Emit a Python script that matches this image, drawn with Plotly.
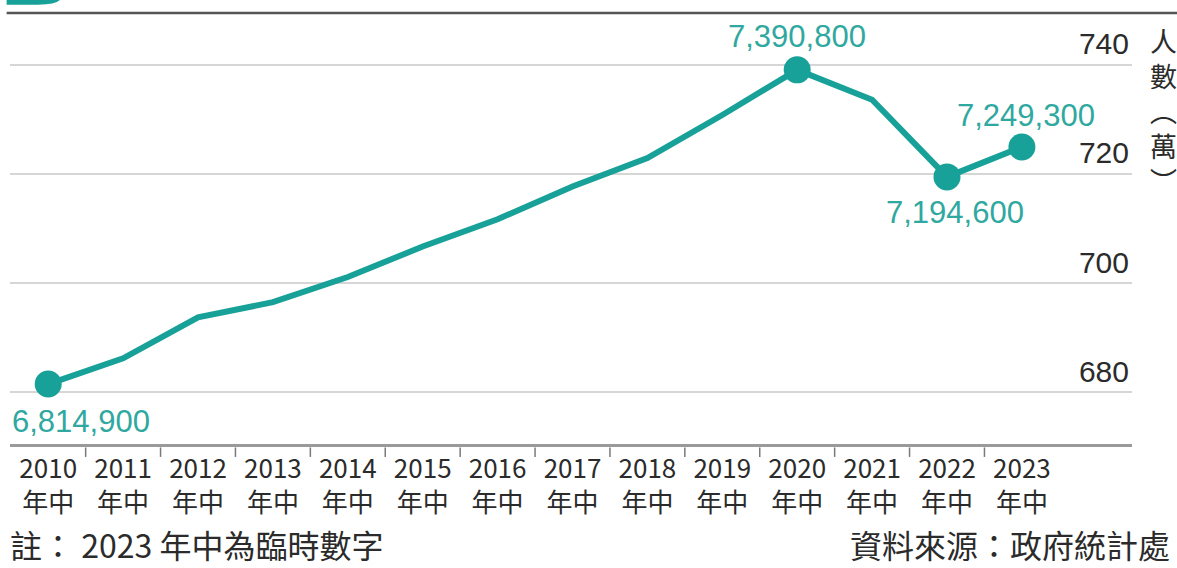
import plotly.graph_objects as go

years = [2010, 2011, 2012, 2013, 2014, 2015, 2016, 2017, 2018, 2019, 2020, 2021, 2022, 2023]
population_wan = [681.49, 686.2, 693.7, 696.5, 701.1, 706.7, 711.7, 717.7, 722.9, 730.8, 739.08, 733.6, 719.46, 724.93]
tick_labels = [f"{y}<br>年中" for y in years]
y_ticks = [680, 700, 720, 740]
highlight_years = [2010, 2020, 2022, 2023]
note_text = "註： 2023 年中為臨時數字"
source_text = "資料來源：政府統計處"
y_title_chars = ["人", "數", "︵", "萬", "︶"]

TEAL = "#17a198"
LABEL_TEAL = "#2fa8a0"
DARK = "#2b2b2b"
CJK = "Noto Sans CJK TC"

fig = go.Figure()

fig.add_trace(go.Scatter(
    x=years, y=population_wan, mode="lines",
    line=dict(color=TEAL, width=6), hoverinfo="skip", showlegend=False,
))

hx = [y for y in years if y in highlight_years]
hy = [population_wan[years.index(y)] for y in hx]
fig.add_trace(go.Scatter(
    x=hx, y=hy, mode="markers",
    marker=dict(color=TEAL, size=27), hoverinfo="skip", showlegend=False,
))

# label placement style per highlighted point: (xanchor, xshift, yshift)
label_style = {
    2010: ("left", -38, -37),
    2020: ("center", 0, 33),
    2022: ("center", 8, -36),
    2023: ("center", 4, 32),
}
for yr, val in zip(hx, hy):
    xa, xs, ys = label_style[yr]
    fig.add_annotation(
        x=yr, y=val, text=f"{int(round(val * 10000)):,}", showarrow=False,
        xanchor=xa, yanchor="middle", xshift=xs, yshift=ys,
        font=dict(family="Liberation Sans, Arial", size=31, color=LABEL_TEAL),
    )

# category separator ticks below the axis
for i in range(len(years) - 1):
    xm = (years[i] + years[i + 1]) / 2
    fig.add_shape(type="line", xref="x", yref="paper", x0=xm, x1=xm,
                  y0=-0.008, y1=-0.03, line=dict(color="#7a7a7a", width=1.5))

# top rule and header fragment
fig.add_shape(type="line", xref="paper", yref="paper",
              x0=-0.003, x1=1.05, y0=1.0, y1=1.0,
              line=dict(color="#555555", width=2.5))
fig.add_shape(type="path", xref="paper", yref="paper",
              path="M -0.003 1.032 L 0.045 1.032 Q 0.042 1.02 0.025 1.019 L -0.003 1.019 Z",
              fillcolor=TEAL, line=dict(width=0))

# y axis title (vertical)
fig.add_annotation(
    xref="paper", yref="paper", x=1.0, y=0.985, xanchor="left", yanchor="top",
    xshift=16, text="<br>".join(y_title_chars), showarrow=False, align="center",
    font=dict(family=CJK, size=27, color=DARK),
)

# bottom note and source
fig.add_annotation(
    xref="paper", yref="paper", x=0, y=-0.232, xanchor="left", yanchor="middle",
    xshift=-2, text=note_text, showarrow=False,
    font=dict(family=CJK, size=32, color=DARK),
)
fig.add_annotation(
    xref="paper", yref="paper", x=1.0, y=-0.232, xanchor="right", yanchor="middle",
    xshift=40, text=source_text, showarrow=False,
    font=dict(family=CJK, size=32, color=DARK),
)

fig.update_layout(
    width=1177, height=568,
    margin=dict(l=10, r=45, t=13, b=124),
    paper_bgcolor="white", plot_bgcolor="white",
    xaxis=dict(
        range=[2009.49, 2024.47], tickmode="array", tickvals=years, ticktext=tick_labels,
        showgrid=False, zeroline=False, showline=True, linecolor="#9a9a9a", linewidth=3,
        ticks="", tickfont=dict(family=CJK, size=26, color=DARK),
        fixedrange=True,
    ),
    yaxis=dict(
        range=[670.5, 749.5], side="right", tickmode="array", tickvals=y_ticks,
        ticklabelposition="inside top", showgrid=True, gridcolor="#d6d6d6", gridwidth=1.5,
        zeroline=False, showline=False, ticks="",
        tickfont=dict(family="Liberation Sans, Arial", size=30, color=DARK),
        fixedrange=True,
    ),
)

fig.write_html("out.html", config={"displayModeBar": False},
               post_script="document.body.style.margin='0';")
